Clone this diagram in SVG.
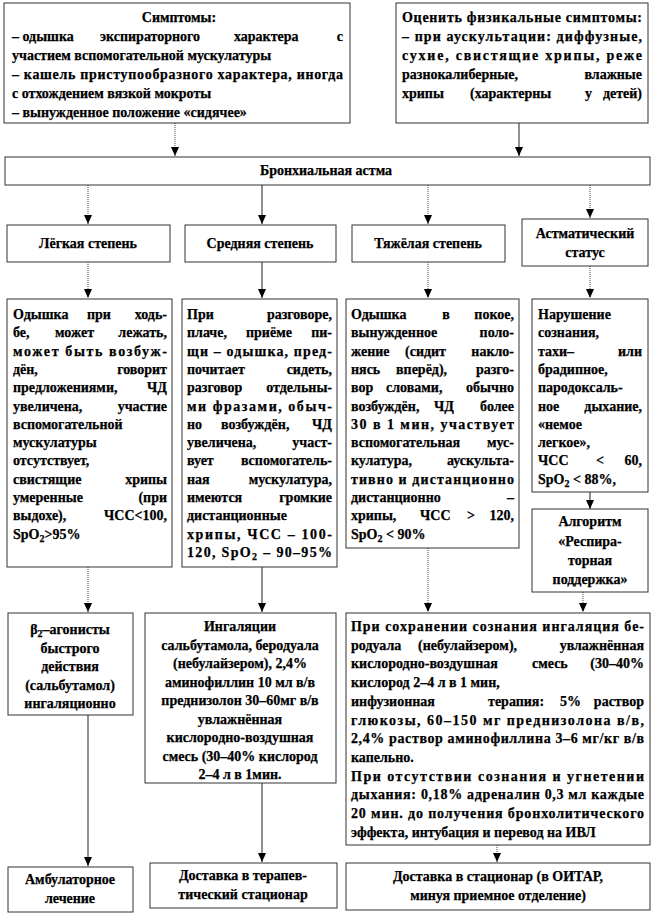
<svg xmlns="http://www.w3.org/2000/svg" width="653" height="917" viewBox="0 0 653 917">
<style>
text{font-family:'Liberation Serif','Times New Roman',serif;font-weight:700;font-size:14px;fill:#000;stroke:#000;stroke-width:0.25}
.c{text-anchor:middle}
.e{text-anchor:end}
.box{fill:#fff;stroke:#333;stroke-width:1}
.ln{stroke:#222;stroke-width:1;fill:none}
.dt{stroke:#444;stroke-width:1;stroke-dasharray:1 1;fill:none}
</style>
<defs>
<marker id="ah" markerWidth="8" markerHeight="10" refX="4" refY="10" orient="0" markerUnits="userSpaceOnUse">
<path d="M0,1 L8,1 L4,10 Z" fill="#000"/>
</marker>
</defs>

<g id="connectors">
<line class="dt" x1="175" y1="123" x2="175" y2="156" marker-end="url(#ah)"/>
<line class="ln" x1="519" y1="123" x2="519" y2="156" marker-end="url(#ah)"/>
<line class="dt" x1="88" y1="185" x2="88" y2="224" marker-end="url(#ah)"/>
<line class="ln" x1="262" y1="185" x2="262" y2="224" marker-end="url(#ah)"/>
<line class="dt" x1="428" y1="185" x2="428" y2="224" marker-end="url(#ah)"/>
<line class="dt" x1="590" y1="185" x2="590" y2="218" marker-end="url(#ah)"/>
<line class="dt" x1="88" y1="262" x2="88" y2="298" marker-end="url(#ah)"/>
<line class="ln" x1="262" y1="262" x2="262" y2="298" marker-end="url(#ah)"/>
<line class="dt" x1="428" y1="262" x2="428" y2="298" marker-end="url(#ah)"/>
<line class="dt" x1="590" y1="266" x2="590" y2="298" marker-end="url(#ah)"/>
<line class="ln" x1="590" y1="492" x2="590" y2="509" marker-end="url(#ah)"/>
<line class="dt" x1="88" y1="567" x2="88" y2="612" marker-end="url(#ah)"/>
<line class="ln" x1="262" y1="567" x2="262" y2="612" marker-end="url(#ah)"/>
<line class="dt" x1="428" y1="548" x2="428" y2="612" marker-end="url(#ah)"/>
<line class="dt" x1="583" y1="592" x2="583" y2="612" marker-end="url(#ah)"/>
<line class="ln" x1="88" y1="715" x2="88" y2="866" marker-end="url(#ah)"/>
<line class="ln" x1="262" y1="783" x2="262" y2="862" marker-end="url(#ah)"/>
<line class="dt" x1="497" y1="845" x2="497" y2="862" marker-end="url(#ah)"/>
</g>

<g font-family="'Liberation Serif', 'Times New Roman', serif" font-weight="700" font-size="14">
<g id="symptoms">
<rect class="box" x="4" y="3" width="346" height="120"/>
<text class="c" x="179" y="22">Симптомы:</text>
<text x="12" y="41">– одышка</text>
<text x="100" y="41">экспираторного</text>
<text x="234" y="41">характера</text>
<text class="e" x="343" y="41">с</text>
<text x="12" y="60">участием вспомогательной мускулатуры</text>
<text x="12" y="79" textLength="331" lengthAdjust="spacing">– кашель приступообразного характера, иногда</text>
<text x="12" y="98">с отхождением  вязкой мокроты</text>
<text x="12" y="117">– вынужденное положение «сидячее»</text>
</g>

<g id="physical">
<rect class="box" x="396" y="3" width="252" height="120"/>
<text x="402" y="22" textLength="240" lengthAdjust="spacing">Оценить физикальные симптомы:</text>
<text x="402" y="41" textLength="240" lengthAdjust="spacing">– при аускультации: диффузные,</text>
<text x="402" y="60" textLength="240" lengthAdjust="spacing">сухие, свистящие хрипы, реже</text>
<text x="402" y="79">разнокалиберные,</text>
<text class="e" x="642" y="79">влажные</text>
<text x="402" y="98">хрипы</text>
<text x="470" y="98">(характерны</text>
<text x="585" y="98">у</text>
<text class="e" x="642" y="98">детей)</text>
</g>

<g id="asthma">
<rect class="box" x="5" y="157" width="645" height="28"/>
<text class="c" x="326" y="175">Бронхиальная астма</text>
</g>

<g id="mild">
<rect class="box" x="7" y="225" width="163" height="37"/>
<text class="c" x="88" y="248">Лёгкая  степень</text>
</g>
<g id="moderate">
<rect class="box" x="185" y="225" width="151" height="37"/>
<text class="c" x="260" y="248">Средняя степень</text>
</g>
<g id="severe">
<rect class="box" x="352" y="225" width="153" height="37"/>
<text class="c" x="428" y="248">Тяжёлая  степень</text>
</g>
<g id="status">
<rect class="box" x="522" y="219" width="126" height="47"/>
<text class="c" x="585" y="238">Астматический</text>
<text class="c" x="585" y="257">статус</text>
</g>

<g id="mild-desc">
<rect class="box" x="7" y="299" width="165" height="268"/>
<text x="13" y="319">Одышка</text><text x="87" y="319">при</text><text class="e" x="167" y="319">ходь-</text>
<text x="13" y="337.3">бе,</text><text x="55" y="337.3">может</text><text class="e" x="167" y="337.3">лежать,</text>
<text x="13" y="355.6" textLength="154" lengthAdjust="spacing">может быть возбуж-</text>
<text x="13" y="373.9">дён,</text><text class="e" x="167" y="373.9">говорит</text>
<text x="13" y="392.2">предложениями,</text><text class="e" x="167" y="392.2">ЧД</text>
<text x="13" y="410.5">увеличена,</text><text class="e" x="167" y="410.5">участие</text>
<text x="13" y="428.8">вспомогательной</text>
<text x="13" y="447.1">мускулатуры</text>
<text x="13" y="465.4">отсутствует,</text>
<text x="13" y="483.7">свистящие</text><text class="e" x="167" y="483.7">хрипы</text>
<text x="13" y="502">умеренные</text><text class="e" x="167" y="502">(при</text>
<text x="13" y="520.3">выдохе),</text><text class="e" x="167" y="520.3">ЧСС&lt;100,</text>
<text x="13" y="538.6">SpO<tspan font-size="10" dy="3">2</tspan><tspan dy="-3">&gt;95%</tspan></text>
</g>

<g id="moderate-desc">
<rect class="box" x="182" y="299" width="155" height="268"/>
<text x="187" y="319">При</text><text class="e" x="332" y="319">разговоре,</text>
<text x="187" y="337.3">плаче,</text><text x="246" y="337.3">приёме</text><text class="e" x="332" y="337.3">пи-</text>
<text x="187" y="355.6" textLength="145" lengthAdjust="spacing">щи – одышка, пред-</text>
<text x="187" y="373.9">почитает</text><text class="e" x="332" y="373.9">сидеть,</text>
<text x="187" y="392.2">разговор</text><text class="e" x="332" y="392.2">отдельны-</text>
<text x="187" y="410.5" textLength="145" lengthAdjust="spacing">ми фразами, обыч-</text>
<text x="187" y="428.8">но</text><text x="221" y="428.8">возбуждён,</text><text class="e" x="332" y="428.8">ЧД</text>
<text x="187" y="447.1">увеличена,</text><text class="e" x="332" y="447.1">участ-</text>
<text x="187" y="465.4">вует</text><text class="e" x="332" y="465.4">вспомогатель-</text>
<text x="187" y="483.7">ная</text><text class="e" x="332" y="483.7">мускулатура,</text>
<text x="187" y="502">имеются</text><text class="e" x="332" y="502">громкие</text>
<text x="187" y="520.3">дистанционные</text>
<text x="187" y="538.6" textLength="145" lengthAdjust="spacing">хрипы, ЧСС – 100-</text>
<text x="187" y="556.9" textLength="145" lengthAdjust="spacing">120, SpO<tspan font-size="10" dy="3">2</tspan><tspan dy="-3"> – 90–95%</tspan></text>
</g>

<g id="severe-desc">
<rect class="box" x="346" y="299" width="173" height="249"/>
<text x="351" y="319">Одышка</text><text class="c" x="446" y="319">в</text><text class="e" x="514" y="319">покое,</text>
<text x="351" y="337.3">вынужденное</text><text class="e" x="514" y="337.3">поло-</text>
<text x="351" y="355.6">жение</text><text x="405" y="355.6">(сидит</text><text class="e" x="514" y="355.6">накло-</text>
<text x="351" y="373.9">нясь</text><text x="396" y="373.9">вперёд),</text><text class="e" x="514" y="373.9">разго-</text>
<text x="351" y="392.2">вор</text><text x="386" y="392.2">словами,</text><text class="e" x="514" y="392.2">обычно</text>
<text x="351" y="410.5">возбуждён,</text><text x="434" y="410.5">ЧД</text><text class="e" x="514" y="410.5">более</text>
<text x="351" y="428.8" textLength="163" lengthAdjust="spacing">30 в 1 мин, участвует</text>
<text x="351" y="447.1">вспомогательная</text><text class="e" x="514" y="447.1">мус-</text>
<text x="351" y="465.4">кулатура,</text><text class="e" x="514" y="465.4">аускульта-</text>
<text x="351" y="483.7" textLength="163" lengthAdjust="spacing">тивно и дистанционно</text>
<text x="351" y="502">дистанционно</text><text class="e" x="514" y="502">–</text>
<text x="351" y="520.3">хрипы,</text><text x="420" y="520.3">ЧСС</text><text class="c" x="471" y="520.3">&gt;</text><text class="e" x="514" y="520.3">120,</text>
<text x="351" y="538.6">SpO<tspan font-size="10" dy="3">2</tspan><tspan dy="-3"> &lt; 90%</tspan></text>
</g>

<g id="status-desc">
<rect class="box" x="532" y="299" width="116" height="193"/>
<text x="538" y="319">Нарушение</text>
<text x="538" y="337.3">сознания,</text>
<text x="538" y="355.6">тахи–</text><text class="e" x="642" y="355.6">или</text>
<text x="538" y="373.9">брадипное,</text>
<text x="538" y="392.2">пародоксаль-</text>
<text x="538" y="410.5">ное</text><text class="e" x="642" y="410.5">дыхание,</text>
<text x="538" y="428.8">«немое</text>
<text x="538" y="447.1">легкое»,</text>
<text x="538" y="465.4">ЧСС</text><text class="c" x="600" y="465.4">&lt;</text><text class="e" x="642" y="465.4">60,</text>
<text x="538" y="483.7">SpO<tspan font-size="10" dy="3">2</tspan><tspan dy="-3"> &lt; 88%,</tspan></text>
</g>

<g id="algorithm">
<rect class="box" x="532" y="509" width="116" height="83"/>
<text class="c" x="590" y="526">Алгоритм</text>
<text class="c" x="590" y="545.5">«Респира-</text>
<text class="c" x="590" y="565">торная</text>
<text class="c" x="590" y="584">поддержка»</text>
</g>

<g id="beta2">
<rect class="box" x="8" y="613" width="125" height="102"/>
<text class="c" x="70" y="634">β<tspan font-size="10" dy="3">2</tspan><tspan dy="-3">–агонисты</tspan></text>
<text class="c" x="70" y="652.5">быстрого</text>
<text class="c" x="70" y="671">действия</text>
<text class="c" x="70" y="689.5">(сальбутамол)</text>
<text class="c" x="70" y="707.5">ингаляционно</text>
</g>

<g id="inhalation">
<rect class="box" x="145" y="613" width="191" height="170"/>
<text class="c" x="240" y="631">Ингаляции</text>
<text class="c" x="240" y="649.5">сальбутамола, беродуала</text>
<text class="c" x="240" y="668">(небулайзером), 2,4%</text>
<text class="c" x="240" y="686.5">аминофиллин 10 мл в/в</text>
<text class="c" x="240" y="705">преднизолон 30–60мг в/в</text>
<text class="c" x="240" y="723.5">увлажнённая</text>
<text class="c" x="240" y="742">кислородно-воздушная</text>
<text class="c" x="240" y="760.5">смесь (30–40% кислород</text>
<text class="c" x="240" y="779">2–4 л в 1мин.</text>
</g>

<g id="severe-treatment">
<rect class="box" x="346" y="613" width="304" height="232"/>
<text x="351" y="631" textLength="293" lengthAdjust="spacing">При сохранении сознания ингаляция бе-</text>
<text x="351" y="649.7">родуала</text><text x="418" y="649.7">(небулайзером),</text><text class="e" x="644" y="649.7">увлажнённая</text>
<text x="351" y="668.4">кислородно-воздушная</text><text x="532" y="668.4">смесь</text><text class="e" x="644" y="668.4">(30–40%</text>
<text x="351" y="687.1">кислород 2–4 л в 1 мин,</text>
<text x="351" y="705.8">инфузионная</text><text x="488" y="705.8">терапия:</text><text x="560" y="705.8">5%</text><text class="e" x="644" y="705.8">раствор</text>
<text x="351" y="724.5" textLength="293" lengthAdjust="spacing">глюкозы, 60–150 мг преднизолона в/в,</text>
<text x="351" y="743.2" textLength="293" lengthAdjust="spacing">2,4% раствор аминофиллина 3–6 мг/кг в/в</text>
<text x="351" y="761.9">капельно.</text>
<text x="351" y="780.6" textLength="293" lengthAdjust="spacing">При отсутствии сознания и угнетении</text>
<text x="351" y="799.3" textLength="293" lengthAdjust="spacing">дыхания: 0,18% адреналин 0,3 мл каждые</text>
<text x="351" y="818" textLength="293" lengthAdjust="spacing">20 мин. до получения бронхолитического</text>
<text x="351" y="836.7">эффекта,  интубация и перевод на ИВЛ</text>
</g>

<g id="outpatient">
<rect class="box" x="8" y="867" width="125" height="45"/>
<text class="c" x="70" y="884">Амбулаторное</text>
<text class="c" x="70" y="903">лечение</text>
</g>
<g id="therapy-hospital">
<rect class="box" x="150" y="863" width="187" height="45"/>
<text class="c" x="243" y="880">Доставка в терапев-</text>
<text class="c" x="243" y="899">тический стационар</text>
</g>
<g id="icu">
<rect class="box" x="346" y="863" width="304" height="47"/>
<text class="c" x="498" y="881">Доставка в стационар (в ОИТАР,</text>
<text class="c" x="498" y="900">минуя приемное отделение)</text>
</g>
</g>
</svg>
